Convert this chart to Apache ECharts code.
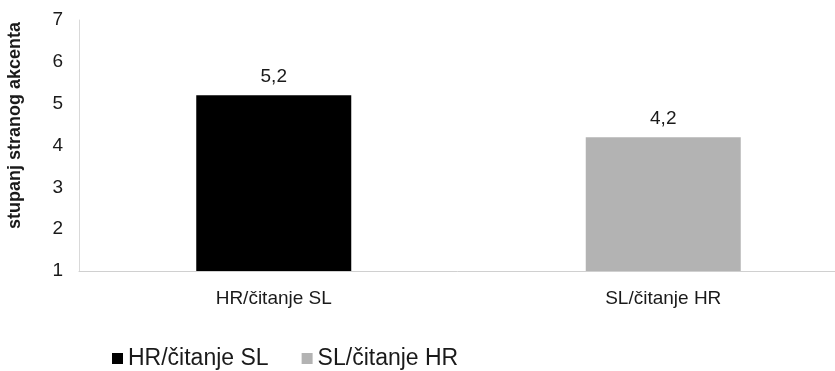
<!DOCTYPE html>
<html>
<head>
<meta charset="utf-8">
<script src="https://cdn.jsdelivr.net/npm/echarts@6/dist/echarts.min.js"></script>
<style>
  html, body { margin: 0; padding: 0; background: #ffffff; }
  #chart { width: 835px; height: 371px; }
</style>
</head>
<body>
<div id="chart"></div>
<script>
// Categories and mean ratings of foreign accent
const categories = ['HR/čitanje SL', 'SL/čitanje HR'];
const hrReadingSl = [5.2, '-'];
const slReadingHr = ['-', 4.2];
const yTicks = { min: 1, max: 7, interval: 1 };
const yTitle = 'stupanj stranog akcenta';

const font = '"Liberation Sans", Arial, sans-serif';
const chart = echarts.init(document.getElementById('chart'), null, { renderer: 'canvas' });

const valueLabel = {
  show: true,
  position: 'top',
  distance: 9,
  color: '#1a1a1a',
  fontFamily: font,
  fontSize: 19,
  formatter: p => String(p.value).replace('.', ',')
};

chart.setOption({
  animation: false,
  backgroundColor: '#ffffff',
  grid: {
    left: 79, top: 20, bottom: 100, width: 779,
    containLabel: false,
    outerBoundsMode: 'none'
  },
  legend: {
    left: 112,
    top: 347,
    padding: 0,
    icon: 'rect',
    itemWidth: 11,
    itemHeight: 11,
    itemGap: 33,
    textStyle: { fontFamily: font, fontSize: 23, color: '#1a1a1a' },
    data: categories
  },
  xAxis: {
    type: 'category',
    data: categories,
    axisLine: { show: true, lineStyle: { color: '#d0d0d0', width: 1 } },
    axisTick: { show: false },
    axisLabel: { fontFamily: font, fontSize: 19, color: '#1a1a1a', margin: 18 },
    splitLine: { show: false }
  },
  yAxis: {
    type: 'value',
    min: yTicks.min,
    max: yTicks.max,
    interval: yTicks.interval,
    name: yTitle,
    nameLocation: 'middle',
    nameGap: 55,
    nameTextStyle: { fontFamily: font, fontSize: 18, fontWeight: 'bold', color: '#1a1a1a', padding: [0, 0, 0, 40] },
    axisLine: { show: true, lineStyle: { color: '#d9d9d9', width: 1 } },
    axisTick: { show: false },
    axisLabel: { fontFamily: font, fontSize: 19, color: '#1a1a1a', margin: 16 },
    splitLine: { show: false }
  },
  series: [
    {
      name: categories[0],
      type: 'bar',
      stack: 'all',
      barWidth: 155,
      data: hrReadingSl,
      itemStyle: { color: '#000000' },
      label: valueLabel
    },
    {
      name: categories[1],
      type: 'bar',
      stack: 'all',
      barWidth: 155,
      data: slReadingHr,
      itemStyle: { color: '#b3b3b3' },
      label: valueLabel
    }
  ]
});
</script>
</body>
</html>
